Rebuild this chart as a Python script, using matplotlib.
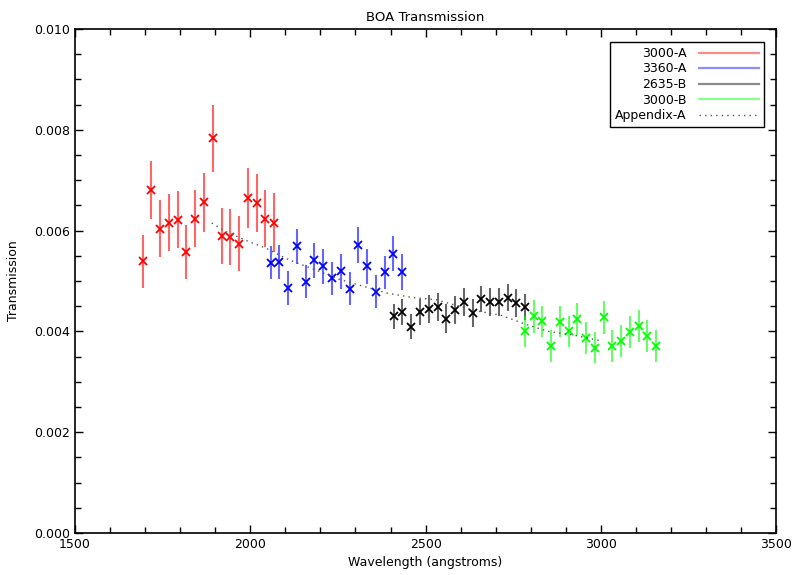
import matplotlib
matplotlib.use("Agg")
import matplotlib.pyplot as plt
from matplotlib.lines import Line2D
from matplotlib.ticker import MultipleLocator

# Transmission per filter set (values in 1e-3)
red_wl = [1693, 1718, 1743, 1768, 1793, 1818, 1843, 1868, 1893, 1918, 1943, 1968, 1993, 2018, 2043, 2068]
red_y = [5.39, 6.81, 6.04, 6.16, 6.22, 5.57, 6.24, 6.56, 7.83, 5.89, 5.87, 5.74, 6.65, 6.55, 6.24, 6.16]
red_err = [0.52, 0.58, 0.56, 0.56, 0.56, 0.54, 0.57, 0.58, 0.66, 0.55, 0.56, 0.55, 0.59, 0.58, 0.56, 0.59]

blue_wl = [2058, 2083, 2108, 2133, 2158, 2183, 2208, 2233, 2258, 2283, 2308, 2333, 2358, 2383, 2408, 2433]
blue_y = [5.36, 5.37, 4.86, 5.69, 4.99, 5.41, 5.29, 5.05, 5.19, 4.85, 5.71, 5.29, 4.79, 5.17, 5.54, 5.18]
blue_err = [0.33, 0.34, 0.33, 0.35, 0.33, 0.35, 0.35, 0.33, 0.35, 0.33, 0.36, 0.35, 0.32, 0.33, 0.35, 0.35]

black_wl = [2409, 2434, 2459, 2484, 2509, 2534, 2559, 2584, 2609, 2634, 2659, 2684, 2709, 2734, 2759, 2784]
black_y = [4.30, 4.39, 4.09, 4.39, 4.45, 4.48, 4.25, 4.42, 4.58, 4.36, 4.64, 4.58, 4.58, 4.67, 4.56, 4.49]
black_err = [0.25, 0.26, 0.25, 0.26, 0.28, 0.28, 0.29, 0.28, 0.28, 0.28, 0.26, 0.28, 0.28, 0.27, 0.28, 0.26]

green_wl = [2783, 2808, 2833, 2858, 2883, 2908, 2933, 2958, 2983, 3008, 3033, 3058, 3083, 3108, 3133, 3158]
green_y = [4.00, 4.30, 4.20, 3.71, 4.19, 4.00, 4.24, 3.87, 3.68, 4.28, 3.71, 3.81, 3.99, 4.10, 3.91, 3.71]
green_err = [0.30, 0.33, 0.31, 0.31, 0.31, 0.31, 0.32, 0.31, 0.31, 0.33, 0.31, 0.31, 0.31, 0.32, 0.31, 0.31]

# Appendix-A reference curve
app_wl = [1890, 1930, 1990, 2045, 2110, 2190, 2255, 2390, 2465, 2530, 2635, 2715, 2790, 2850, 2920, 2995]
app_y = [6.15, 5.98, 5.80, 5.65, 5.42, 5.21, 5.03, 4.76, 4.67, 4.63, 4.42, 4.32, 4.13, 4.00, 3.93, 3.82]

series = [
    ("3000-A", red_wl, red_y, red_err, "#ff0000"),
    ("3360-A", blue_wl, blue_y, blue_err, "#0000ff"),
    ("2635-B", black_wl, black_y, black_err, "#000000"),
    ("3000-B", green_wl, green_y, green_err, "#00ff00"),
]

plt.rcParams["font.family"] = "DejaVu Sans"
plt.rcParams["font.size"] = 9

fig = plt.figure(figsize=(7.92, 5.75), dpi=100)
ax = fig.add_axes([0.0947, 0.073, 0.8853, 0.8766])

handles = []
for label, wl, y, err, color in series:
    yv = [v * 1e-3 for v in y]
    ev = [e * 1e-3 for e in err]
    ax.errorbar(wl, yv, yerr=ev, fmt="none", ecolor=color, elinewidth=1.5,
                alpha=0.6, capsize=0)
    ax.plot(wl, yv, linestyle="none", marker="x", markersize=5.5,
            markeredgewidth=1.3, color=color)
    handles.append(Line2D([], [], color=color, lw=1.6, alpha=0.45, label=label))

ax.plot(app_wl, [v * 1e-3 for v in app_y], linestyle=(0, (1, 3)),
        color="#555555", lw=1)
handles.append(Line2D([], [], color="#555555", lw=1, linestyle=(0, (1, 3)),
                      label="Appendix-A"))

ax.set_xlim(1500, 3500)
ax.set_ylim(0, 0.010)
ax.xaxis.set_major_locator(MultipleLocator(500))
ax.xaxis.set_minor_locator(MultipleLocator(100))
ax.yaxis.set_major_locator(MultipleLocator(0.002))
ax.yaxis.set_minor_locator(MultipleLocator(0.0005))
ax.yaxis.set_major_formatter(plt.FormatStrFormatter("%.3f"))
ax.tick_params(which="both", direction="in", top=True, right=True, width=1)
ax.tick_params(which="major", length=6)
ax.tick_params(which="minor", length=4)
for sp in ax.spines.values():
    sp.set_linewidth(1.2)

ax.set_title("BOA Transmission", fontsize=9.5, pad=6)
ax.set_xlabel("Wavelength (angstroms)", labelpad=4)
ax.set_ylabel("Transmission", labelpad=10)

leg = ax.legend(handles=handles, loc="upper right", markerfirst=False,
                bbox_to_anchor=(764 / 792, 1 - 42 / 575),
                bbox_transform=fig.transFigure, borderaxespad=0,
                handlelength=4.8, labelspacing=0.2, fancybox=False,
                framealpha=1, edgecolor="black", fontsize=9,
                borderpad=0.4, handletextpad=1.0)
leg.get_frame().set_linewidth(1)

fig.savefig("out.png", dpi=100)
